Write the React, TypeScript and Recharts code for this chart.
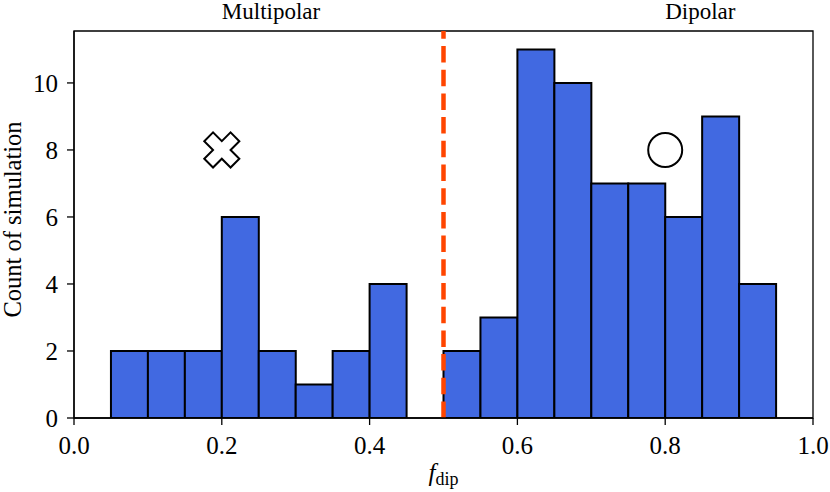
import { ComposedChart, Bar, XAxis, YAxis, ReferenceLine, ReferenceArea, Scatter } from "recharts"

// histogram of f_dip, bins of 0.05 (the empty 0.45-0.50 bin is left out)
const binLeft = [0.05, 0.1, 0.15, 0.2, 0.25, 0.3, 0.35, 0.4, 0.5, 0.55, 0.6, 0.65, 0.7, 0.75, 0.8, 0.85, 0.9]
const counts = [2, 2, 2, 6, 2, 1, 2, 4, 2, 3, 11, 10, 7, 7, 6, 9, 4]
const binWidth = 0.05

const xTicks = [0, 0.2, 0.4, 0.6, 0.8, 1.0]
const yTicks = [0, 2, 4, 6, 8, 10]
const yMax = 11.55

const threshold = 0.5
const multipolarMark = [{ x: 0.2, y: 8 }]
const dipolarMark = [{ x: 0.8, y: 8 }]
const regionLabels = [
  { x: 0.2, text: "Multipolar" },
  { x: 0.8, text: "Dipolar" },
]

const data = binLeft.map((l, i) => ({ x: +(l + binWidth / 2).toFixed(3), count: counts[i] }))

const FONT = "Liberation Serif, DejaVu Serif, serif"
const tickStyle = { fontFamily: FONT, fontSize: 25, fill: "#000" }

// matplotlib-style filled "X" marker: a plus rotated by 45 degrees
const XMarker = (props: any) => {
  const { cx, cy } = props
  const s = 6.2
  const pts = [[-1, -3], [1, -3], [1, -1], [3, -1], [3, 1], [1, 1], [1, 3], [-1, 3], [-1, 1], [-3, 1], [-3, -1], [-1, -1]]
  const c = Math.SQRT1_2
  const d = pts
    .map(([px, py]) => `${cx + (px * c - py * c) * s},${cy + (px * c + py * c) * s}`)
    .join(" ")
  return <polygon points={d} fill="#fff" stroke="#000" strokeWidth={2} />
}

const CircleMarker = (props: any) => {
  const { cx, cy } = props
  return <circle cx={cx} cy={cy} r={17} fill="#fff" stroke="#000" strokeWidth={2} />
}

export default function App() {
  return (
    <div style={{ position: "absolute", left: 0, top: 0, background: "#fff", fontFamily: FONT }}>
      <ComposedChart
        width={830}
        height={492}
        data={data}
        margin={{ top: 31, right: 17, left: 0, bottom: 0 }}
        barCategoryGap={0}
        barGap={0}
        style={{ fontFamily: FONT }}
      >
        <XAxis
          dataKey="x"
          type="number"
          domain={[0, 1]}
          ticks={xTicks}
          tickFormatter={(v: number) => v.toFixed(1)}
          tick={tickStyle}
          tickSize={7}
          tickMargin={11}
          height={74}
          axisLine={{ stroke: "#000", strokeWidth: 1.3 }}
          tickLine={{ stroke: "#000", strokeWidth: 1.3 }}
          allowDataOverflow
          label={{
            content: (p: any) => {
              const vb = p.viewBox
              return (
                <text x={vb.x + vb.width / 2} y={481} textAnchor="middle" fontFamily={FONT} fontSize={25} fill="#000">
                  <tspan fontStyle="italic">f</tspan>
                  <tspan fontSize={18} dy={4}>dip</tspan>
                </text>
              )
            },
          }}
        />
        {/* separate hidden axis for the markers so they don't shrink the bar width */}
        <XAxis xAxisId="marks" dataKey="x" type="number" domain={[0, 1]} hide />
        <YAxis
          type="number"
          domain={[0, yMax]}
          ticks={yTicks}
          tick={tickStyle}
          tickSize={7}
          tickMargin={9}
          width={74}
          axisLine={{ stroke: "#000", strokeWidth: 1.3 }}
          tickLine={{ stroke: "#000", strokeWidth: 1.3 }}
          allowDataOverflow
          label={{
            content: (p: any) => {
              const vb = p.viewBox
              const cy = vb.y + vb.height / 2 - 5
              return (
                <text
                  x={21}
                  y={cy}
                  transform={`rotate(-90, 21, ${cy})`}
                  textAnchor="middle"
                  fontFamily={FONT}
                  fontSize={24.5}
                  fill="#000"
                >
                  Count of simulation
                </text>
              )
            },
          }}
        />
        <ReferenceArea x1={0} x2={1} y1={0} y2={yMax} fill="none" stroke="#000" strokeWidth={1.3} />
        <Bar dataKey="count" fill="#4169E1" stroke="#000" strokeWidth={2} isAnimationActive={false} />
        <ReferenceLine x={threshold} stroke="#FF4500" strokeWidth={4.5} strokeDasharray="16.5 7.2" />
        {regionLabels.map((r) => (
          <ReferenceLine
            key={r.text}
            x={r.x}
            stroke="none"
            label={{
              content: (p: any) => (
                <text x={p.viewBox.x} y={p.viewBox.y - 12.5} textAnchor="start" fontFamily={FONT} fontSize={23} fill="#000">
                  {r.text}
                </text>
              ),
            }}
          />
        ))}
        <Scatter xAxisId="marks" data={multipolarMark} dataKey="y" shape={XMarker} isAnimationActive={false} />
        <Scatter xAxisId="marks" data={dipolarMark} dataKey="y" shape={CircleMarker} isAnimationActive={false} />
      </ComposedChart>
    </div>
  )
}
